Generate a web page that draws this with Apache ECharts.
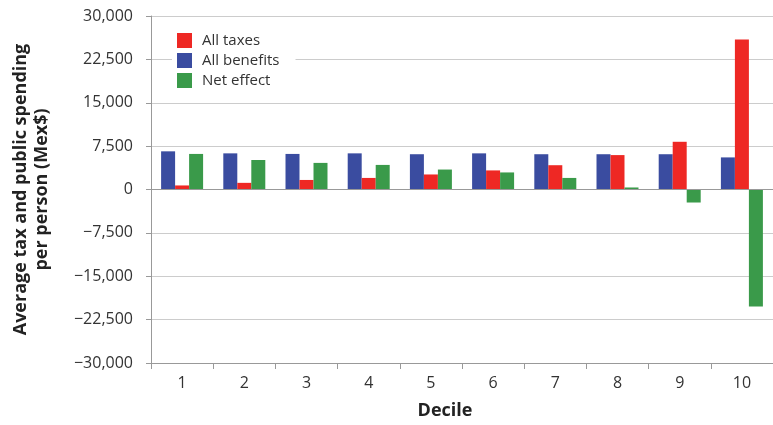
<!DOCTYPE html>
<html>
<head>
<meta charset="utf-8">
<script src="https://cdn.jsdelivr.net/npm/echarts@6/dist/echarts.min.js"></script>
<style>html,body{margin:0;padding:0;background:#fff}#c{width:773px;height:425px}</style>
</head>
<body>
<div id="c"></div>
<script>
const deciles = ['1','2','3','4','5','6','7','8','9','10'];
const allTaxes = [700, 1150, 1650, 2000, 2600, 3300, 4200, 5950, 8250, 25950];
const allBenefits = [6600, 6250, 6150, 6250, 6100, 6250, 6100, 6100, 6100, 5550];
const netEffect = [6150, 5100, 4600, 4250, 3450, 2950, 2000, 350, -2250, -20250];
const yTicks = [-30000, -22500, -15000, -7500, 0, 7500, 15000, 22500, 30000];

const FONT = '"Open Sans", "Noto Sans", sans-serif';
function fmt(v){
  const s = Math.abs(v).toLocaleString('en-US');
  return (v < 0 ? '\u2212' : '') + s;
}
const chart = echarts.init(document.getElementById('c'), null, {renderer:'canvas'});
chart.setOption({
  animation:false,
  textStyle:{fontFamily:FONT},
  grid:{left:151, right:0, top:16, bottom:62},
  legend:{
    orient:'vertical', left:172, top:28,
    data:['All taxes','All benefits','Net effect'],
    itemWidth:15, itemHeight:15, itemGap:5,
    backgroundColor:'#fff', padding:[5,16,5,5],
    textStyle:{fontFamily:FONT, fontSize:15, color:'#333', padding:[0,0,0,5]},
    icon:'rect'
  },
  xAxis:{
    type:'category', data:deciles,
    axisLine:{onZero:false, lineStyle:{color:'#999'}},
    axisTick:{show:true, length:6, lineStyle:{color:'#999'}},
    axisLabel:{fontFamily:FONT, fontSize:16, color:'#333', margin:12},
    name:'Decile', nameLocation:'middle', nameGap:39,
    nameTextStyle:{fontFamily:FONT, fontSize:18, fontWeight:'bold', color:'#222', padding:[0,34,0,0]}
  },
  yAxis:{
    type:'value', min:-30000, max:30000, interval:7500,
    axisLine:{show:true, lineStyle:{color:'#999'}},
    axisTick:{show:true, length:5, lineStyle:{color:'#999'}},
    axisLabel:{fontFamily:FONT, fontSize:16, color:'#333', margin:18, formatter:fmt},
    splitLine:{lineStyle:{color:'#ccc', width:1}},
    name:'Average tax and public spending\nper person (Mex$)',
    nameLocation:'middle', nameGap:99, nameRotate:90,
    nameTextStyle:{fontFamily:FONT, fontSize:18, fontWeight:'bold', color:'#222', lineHeight:21}
  },
  series:[
    {name:'All benefits', type:'bar', data:allBenefits, barWidth:14, barGap:'0%',
     itemStyle:{color:'#3a4ca0'},
     markLine:{silent:true, symbol:'none', label:{show:false},
       lineStyle:{color:'#999', type:'solid', width:1}, data:[{yAxis:0}]}},
    {name:'All taxes', type:'bar', data:allTaxes, barWidth:14, barGap:'0%',
     itemStyle:{color:'#ee2824'}},
    {name:'Net effect', type:'bar', data:netEffect, barWidth:14, barGap:'0%',
     itemStyle:{color:'#3a9a4a'}}
  ]
});
</script>
</body>
</html>
